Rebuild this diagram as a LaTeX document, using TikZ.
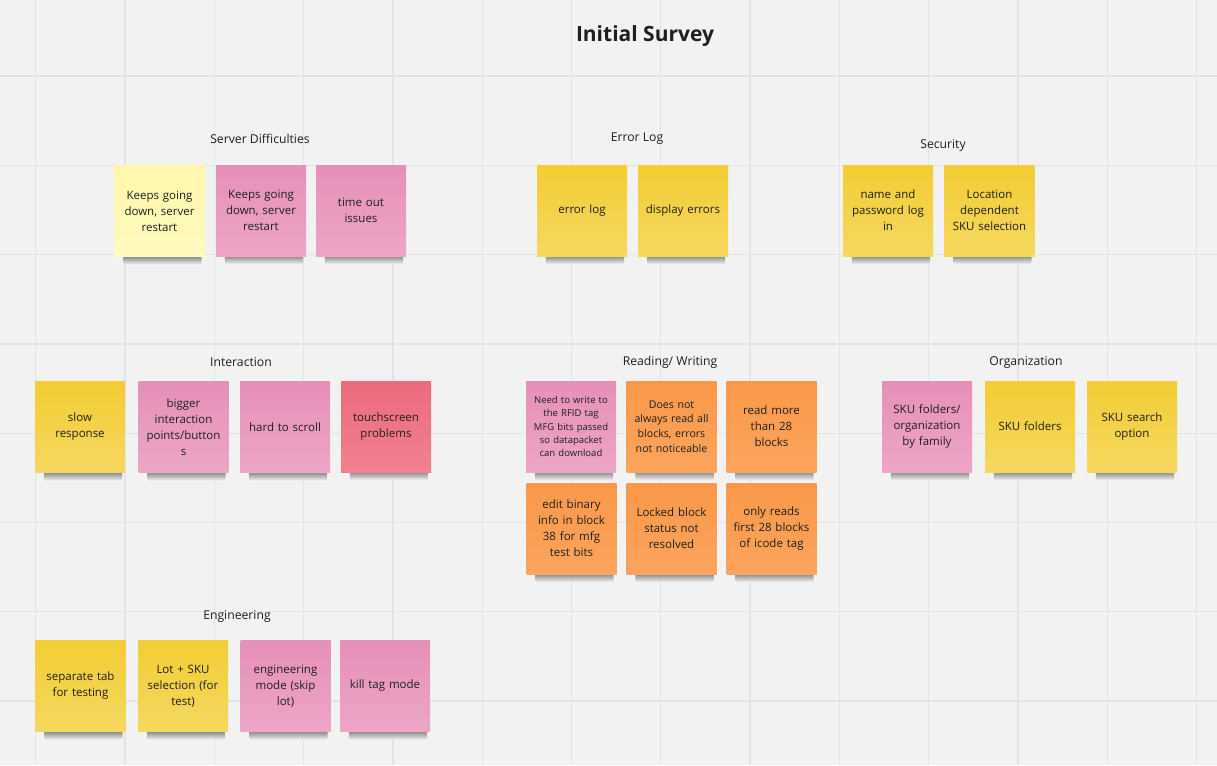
\documentclass[tikz,border=0pt]{standalone}
\usepackage{fontspec}
\setmainfont{Open Sans}
\usepackage{tikz}

\definecolor{boardbg}{HTML}{F2F2F2}
\definecolor{gridline}{HTML}{E4E4E4}
\definecolor{inktext}{HTML}{1F1F1F}
\definecolor{yellowtop}{HTML}{F2CD34}
\definecolor{yellowbot}{HTML}{F5D860}
\definecolor{paletop}{HTML}{FFF7AA}
\definecolor{palebot}{HTML}{FFFABE}
\definecolor{pinktop}{HTML}{E68FB8}
\definecolor{pinkbot}{HTML}{EDA6C7}
\definecolor{redtop}{HTML}{EC6A7E}
\definecolor{redbot}{HTML}{F18090}
\definecolor{orangetop}{HTML}{FA9848}
\definecolor{orangebot}{HTML}{FBA45E}

\pgfdeclarelayer{board}
\pgfdeclarelayer{shade}
\pgfsetlayers{board,shade,main}

\begin{document}
\begin{tikzpicture}[
  x=1pt,
  y=-1pt,
  every node/.style={align=center, text=inktext},
  sticky/.style={
    minimum width=90pt,
    minimum height=91pt,
    inner sep=0pt,
    text width=84pt,
    font=\fontsize{11.5}{16}\selectfont
  },
  yellownote/.style={sticky, top color=yellowtop, bottom color=yellowbot},
  palenote/.style={sticky, top color=paletop, bottom color=palebot},
  pinknote/.style={sticky, top color=pinktop, bottom color=pinkbot},
  rednote/.style={sticky, top color=redtop, bottom color=redbot},
  orangenote/.style={sticky, top color=orangetop, bottom color=orangebot},
  noteshadow/.style={top color=black!55, bottom color=boardbg, rounded corners=2pt},
  grouplabel/.style={font=\fontsize{12.2}{14}\selectfont},
  titlelabel/.style={font=\fontsize{21}{24}\selectfont\bfseries}
]
  % Board background and grid.
  \useasboundingbox (0,0) rectangle (1217,765);
  \begin{pgfonlayer}{board}
    \fill[boardbg] (0,0) rectangle (1217,765);
    \foreach \gx in {0,...,13}
      \draw[gridline, line width=1.3pt] (35.7+89.3*\gx,0) -- (35.7+89.3*\gx,765);
    \foreach \gy in {0,...,7}
      \draw[gridline, line width=1.3pt] (0,76+89.3*\gy) -- (1217,76+89.3*\gy);
  \end{pgfonlayer}

  \node[titlelabel] (title) at (645,36) {Initial Survey};

  % Server difficulties.
  \node[grouplabel] (serverlbl) at (260,139) {Server Difficulties};
  \node[palenote] (serverdown) at (159.5,211) {Keeps going\\down, server\\restart};
  \node[pinknote] (serverdowntwo) at (261,210.5) {Keeps going\\down, server\\restart};
  \node[pinknote] (timeout) at (361,210.5) {time out\\issues};

  % Error log.
  \node[grouplabel] (errorlbl) at (637,139) {Error Log};
  \node[yellownote] (errorlog) at (582,210.5) {error log};
  \node[yellownote] (displayerr) at (683,210.5) {display errors};

  % Security.
  \node[grouplabel] (securitylbl) at (943,145) {Security};
  \node[yellownote] (login) at (888,210.5) {name and\\password log\\in};
  \node[yellownote] (location) at (989.5,210.5) {Location\\dependent\\SKU selection};

  % Interaction.
  \node[grouplabel] (interactlbl) at (241,362) {Interaction};
  \node[yellownote] (slow) at (80,427) {slow\\response};
  \node[pinknote] (bigger) at (183.5,427) {bigger\\interaction\\points/button\\s};
  \node[pinknote] (scroll) at (285,427) {hard to scroll};
  \node[rednote] (touch) at (386,426.5) {touchscreen\\problems};

  % Reading and writing.
  \node[grouplabel] (readlbl) at (670,362) {Reading/ Writing};
  \node[pinknote, font=\fontsize{9.5}{13.3}\selectfont] (rfid) at (571,426.5) {Need to write to\\the RFID tag\\MFG bits passed\\so datapacket\\can download};
  \node[orangenote, font=\fontsize{10.6}{14.6}\selectfont] (readall) at (671.5,426.5) {Does not\\always read all\\blocks, errors\\not noticeable};
  \node[orangenote] (readmore) at (771.5,426.5) {read more\\than 28\\blocks};
  \node[orangenote] (binary) at (571.5,528.5) {edit binary\\info in block\\38 for mfg\\test bits};
  \node[orangenote] (locked) at (671.5,528.5) {Locked block\\status not\\resolved};
  \node[orangenote] (icode) at (771.5,528.5) {only reads\\first 28 blocks\\of icode tag};

  % Organization.
  \node[grouplabel] (orglbl) at (1026,362) {Organization};
  \node[pinknote] (family) at (927,426.5) {SKU folders/\\organization\\by family};
  \node[yellownote] (folders) at (1030,426.5) {SKU folders};
  \node[yellownote] (search) at (1132,426.5) {SKU search\\option};

  % Engineering.
  \node[grouplabel] (englbl) at (237,616) {Engineering};
  \node[yellownote] (septab) at (80.5,686) {separate tab\\for testing};
  \node[yellownote] (lotsku) at (183,686) {Lot + SKU\\selection (for\\test)};
  \node[pinknote] (engmode) at (285.5,686) {engineering\\mode (skip\\lot)};
  \node[pinknote] (killtag) at (385,686) {kill tag mode};

  % Soft shadow under each note.
  \begin{pgfonlayer}{shade}
    \foreach \n in {serverdown,serverdowntwo,timeout,errorlog,displayerr,login,location,
                    slow,bigger,scroll,touch,rfid,readall,readmore,binary,locked,icode,
                    family,folders,search,septab,lotsku,engmode,killtag}
      \shade[noteshadow] ([xshift=9pt,yshift=2pt]\n.south west) rectangle ([xshift=-3pt,yshift=-8pt]\n.south east);
  \end{pgfonlayer}
\end{tikzpicture}
\end{document}
